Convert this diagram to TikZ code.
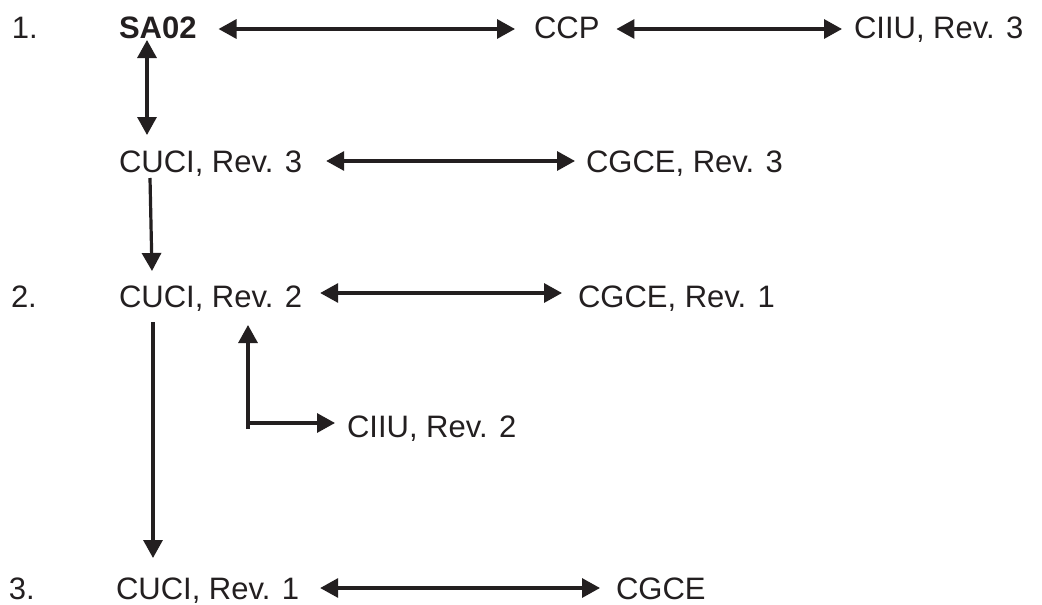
\documentclass[tikz,border=0pt]{standalone}
\usepackage{fontspec}
\setmainfont{Liberation Sans}
\usetikzlibrary{arrows.meta,calc}
\definecolor{ink}{RGB}{35,31,32}
\begin{document}
\begin{tikzpicture}[x=1pt,y=-1pt,
  lbl/.style={anchor=base west, inner sep=0pt, outer sep=0pt, text height=22pt, text depth=0pt, font=\fontsize{31}{37}\selectfont, text=ink},
  link/.style={draw=ink, line width=3.2pt, {Triangle[length=18pt,width=19pt]}-{Triangle[length=18pt,width=19pt]}},
  oneway/.style={draw=ink, line width=3.2pt, -{Triangle[length=18pt,width=19pt]}}]
\useasboundingbox[fill=white] (0,0) rectangle (1042,605);
% labels
\node[lbl] (n1) at (12,38) {1.};
\node[lbl,font=\fontsize{31}{37}\selectfont\bfseries] (sa02) at (119,38) {SA02};
\node[lbl] (ccp) at (534,38) {CCP};
\node[lbl] (ciiu3) at (854,38) {CIIU, Rev. 3};
\node[lbl] (cuci3) at (119,172) {CUCI, Rev. 3};
\node[lbl] (cgce3) at (586,172) {CGCE, Rev. 3};
\node[lbl] (n2) at (11,307) {2.};
\node[lbl] (cuci2) at (119,307) {CUCI, Rev. 2};
\node[lbl] (cgce1) at (578,307) {CGCE, Rev. 1};
\node[lbl] (ciiu2) at (347,437) {CIIU, Rev. 2};
\node[lbl] (n3) at (9,599) {3.};
\node[lbl] (cuci1) at (116,599) {CUCI, Rev. 1};
\node[lbl] (cgce) at (616,599) {CGCE};
% horizontal links
\draw[link, shorten <=22pt, shorten >=19pt] ([yshift=-2pt]sa02.east) -- ([yshift=-2pt]ccp.west);
\draw[link, shorten <=17pt, shorten >=12pt] ([yshift=-2pt]ccp.east) -- ([yshift=-2pt]ciiu3.west);
\draw[link, shorten <=24pt, shorten >=11pt] (cuci3.east) -- (cgce3.west);
\draw[link, shorten <=18pt, shorten >=16pt] ([yshift=3pt]cuci2.east) -- ([yshift=3pt]cgce1.west);
\draw[link, shorten <=21pt, shorten >=16pt] (cuci1.east) -- (cgce.west);
% vertical links
\draw[link] ($(sa02.base west)+(28,2)$) -- ($(cuci3.base west)+(28,-37)$);
\draw[oneway] ($(cuci3.base west)+(31,6)$) -- ($(cuci2.base west)+(33,-36)$);
\draw[oneway] ($(cuci2.base west)+(34,15)$) -- ($(cuci1.base west)+(37,-41)$);
% elbow
\coordinate (elbow) at ($(ciiu2.base west)+(-99,-8)$);
\draw[oneway] (elbow) -- ($(cuci2.base west)+(129,18)$);
\draw[oneway, shorten >=12pt] ($(elbow)+(-1.5,-6)$) -- ([yshift=3pt]ciiu2.west);
\end{tikzpicture}
\end{document}
